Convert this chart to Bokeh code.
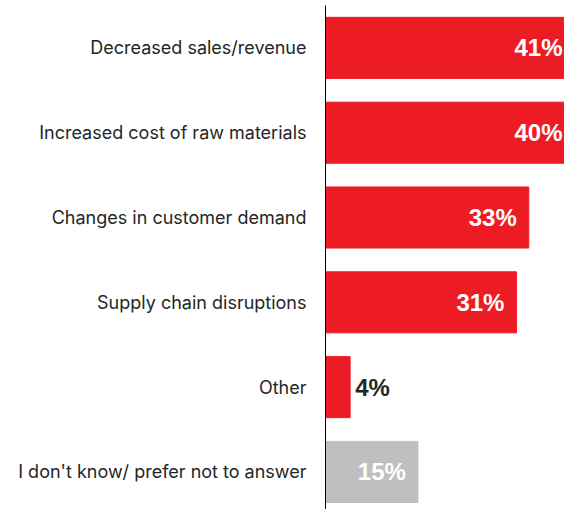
from bokeh.plotting import figure
from bokeh.models import ColumnDataSource, Range1d, FixedTicker
from bokeh.embed import file_html
from bokeh.resources import INLINE
from bokeh.core.properties import value

# Survey responses: share of respondents (%)
categories = [
    "Decreased sales/revenue",
    "Increased cost of raw materials",
    "Changes in customer demand",
    "Supply chain disruptions",
    "Other",
    "I don't know/ prefer not to answer",
]
values = [41, 40, 33, 31, 4, 15]
bar_colors = ["#ED1C24", "#ED1C24", "#ED1C24", "#ED1C24", "#ED1C24", "#BFBFBF"]
labels = [f"{v}%" for v in values]

X_END = 38.8          # visible end of the value axis
INSIDE_MIN = 10       # bars shorter than this get their label outside

pos = list(range(len(categories)))

lab_x, lab_off, lab_align, lab_color = [], [], [], []
for v in values:
    if v < INSIDE_MIN:
        lab_x.append(v); lab_off.append(5); lab_align.append("left"); lab_color.append("#262626")
    elif v > X_END:
        lab_x.append(X_END); lab_off.append(-2); lab_align.append("right"); lab_color.append("white")
    else:
        lab_x.append(v); lab_off.append(-12); lab_align.append("right"); lab_color.append("white")

src = ColumnDataSource(dict(
    y=pos, v=values, color=bar_colors, label=labels,
    lx=lab_x, loff=lab_off, lalign=lab_align, lcolor=lab_color,
))

p = figure(
    width=564, height=509,
    x_range=Range1d(0, X_END),
    y_range=Range1d(5.443, -0.5),
    output_backend="svg", toolbar_location=None,
    min_border_left=325, min_border_right=0,
    min_border_top=5, min_border_bottom=0,
)

p.hbar(y="y", left=0, right="v", height=0.72, color="color", source=src)

p.text(x="lx", y="y", text="label", x_offset="loff", text_align="lalign",
       text_baseline="middle", text_color="lcolor",
       text_font=value("Liberation Sans"), text_font_style="bold",
       text_font_size="24px", source=src)

# Category axis on the left
yax = p.yaxis[0]
yax.ticker = FixedTicker(ticks=pos)
yax.major_label_overrides = {i: c for i, c in enumerate(categories)}
yax.major_label_text_font = "Inter"
yax.major_label_text_font_size = "18px"
yax.major_label_text_color = "#262626"
yax.major_label_standoff = 19
yax.major_tick_out = 0
yax.major_tick_in = 0
yax.major_tick_line_color = None
yax.minor_tick_line_color = None
yax.axis_line_color = "black"
yax.axis_line_width = 1

p.xaxis.visible = False
p.grid.visible = False
p.outline_line_color = None
p.background_fill_color = "white"
p.border_fill_color = "white"

open("out.html", "w").write(file_html(p, INLINE))
